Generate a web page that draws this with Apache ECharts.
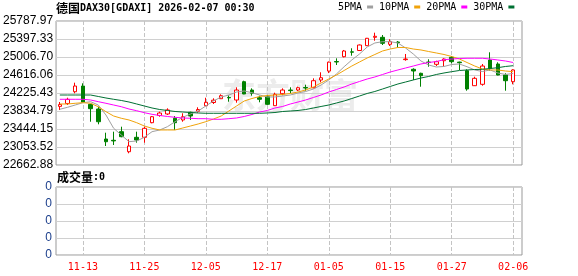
<!DOCTYPE html>
<html><head><meta charset="utf-8">
<script src="https://cdn.jsdelivr.net/npm/echarts@6/dist/echarts.min.js"></script>
<style>html,body{margin:0;padding:0;background:#fff}#c{width:578px;height:276px}</style>
</head><body><div id="c"></div>
<script>
const dates = ['11-10','11-11','11-12','11-13','11-14','11-17','11-18','11-19','11-20','11-21',
 '11-24','11-25','11-26','11-27','11-28','12-01','12-02','12-03','12-04','12-05',
 '12-08','12-09','12-10','12-11','12-12','12-15','12-16','12-17','12-18','12-19',
 '12-22','12-23','12-29','12-30','01-02','01-05','01-06','01-07','01-08','01-09',
 '01-12','01-13','01-14','01-15','01-16','01-19','01-20','01-21','01-22','01-23',
 '01-26','01-27','01-28','01-29','01-30','02-02','02-03','02-04','02-05','02-06'];
const openV = [23935,23998,24253,24377,23980,23878,23227,23199,23386,22951,
 23264,23264,23581,23737,23770,23676,23640,23807,23830,23950,
 24019,24101,24128,24073,24471,24290,24123,24145,23950,24210,
 24290,24290,24345,24340,24507,24701,24909,25013,25119,25148,
 25252,25434,25434,25282,25332,24950,24740,24653,24896,24848,
 24926,25000,24896,24710,24384,24414,24942,24855,24616,24471];
const closeV = [23975,24087,24377,24024,23885,23602,23168,23186,23277,23075,
 23205,23459,23711,23791,23857,23581,23711,23726,23867,24024,
 24069,24167,24119,24290,24204,24219,24089,23980,24197,24290,
 24277,24340,24334,24492,24557,24896,24898,25137,25111,25267,
 25413,25456,25304,25339,25319,24963,24703,24601,24890,24905,
 24963,24905,24883,24312,24544,24811,24761,24616,24492,24725];
const lowV = [23856,23965,24219,24010,23602,23546,23075,23097,23265,22917,
 23147,23147,23568,23711,23748,23422,23602,23640,23798,23945,
 23987,24095,24036,24015,24200,24167,24024,23965,23945,24175,
 24219,24269,24275,24327,24458,24658,24833,24998,25035,25137,
 25245,25360,25267,25245,25209,24926,24507,24362,24796,24811,
 24796,24870,24724,24275,24380,24384,24709,24610,24275,24414];
const highV = [24030,24123,24449,24436,23990,23928,23364,23386,23494,23221,
 23386,23494,23726,23820,23893,23726,23785,23820,23915,24123,
 24110,24197,24175,24349,24492,24327,24167,24182,24232,24327,
 24349,24362,24406,24544,24675,24907,24978,25159,25196,25278,
 25420,25534,25484,25391,25354,25072,24761,24666,24957,24926,
 24978,25028,24905,24740,24579,24855,25109,24892,24653,24740];
const ma5 = [23872,23915,23965,24015,24037,23965,23748,23460,23314,23169,
 23184,23264,23386,23423,23494,23603,23698,23770,23835,23943,
 24052,24139,24182,24247,24269,24232,24182,24139,24139,24160,
 24182,24226,24258,24312,24399,24508,24638,24796,24942,25072,
 25224,25311,25339,25339,25311,25202,25072,24920,24833,24790,
 24801,24844,24855,24796,24725,24692,24725,24660,24627,24649];
const ma10 = [23987,23987,24002,24015,24002,23928,23820,23726,23677,23640,
 23581,23509,23460,23423,23423,23423,23466,23509,23553,23603,
 23661,23726,23835,23943,24052,24106,24150,24171,24182,24193,
 24215,24247,24291,24356,24443,24529,24616,24714,24811,24898,
 24985,25061,25137,25180,25213,25213,25180,25159,25126,25094,
 25061,25018,24963,24887,24811,24746,24725,24725,24703,24688];
const ma20 = [24089,24089,24089,24089,24074,24037,24002,23965,23928,23878,
 23841,23798,23763,23737,23716,23698,23683,23677,23668,23668,
 23655,23655,23668,23683,23716,23759,23813,23846,23900,23933,
 23987,24030,24074,24128,24182,24247,24301,24356,24421,24475,
 24529,24573,24627,24681,24725,24768,24811,24855,24887,24909,
 24948,24963,24974,24979,24979,24979,24963,24942,24920,24887];
const ma30 = [24182,24182,24182,24182,24182,24150,24117,24089,24063,24030,
 23987,23943,23900,23867,23846,23824,23813,23802,23792,23785,
 23785,23785,23785,23785,23785,23785,23785,23792,23802,23824,
 23835,23846,23867,23900,23933,23965,24009,24052,24106,24160,
 24215,24258,24312,24367,24421,24464,24508,24551,24584,24627,
 24660,24688,24714,24725,24735,24740,24757,24775,24801,24818];
const volume = [0,0,0,0,0,0,0,0,0,0, 0,0,0,0,0,0,0,0,0,0, 0,0,0,0,0,0,0,0,0,0,
 0,0,0,0,0,0,0,0,0,0, 0,0,0,0,0,0,0,0,0,0, 0,0,0,0,0,0,0,0,0,0];
const xTickLabels = ['11-13','11-25','12-05','12-17','01-05','01-15','01-27','02-06'];
const yTickLabels = ['22662.88','23053.52','23444.15','23834.79','24225.43','24616.06','25006.70','25397.33','25787.97'];
const volTickLabels = ['0','0','0','0','0'];
const priceMin = 22662.88, priceMax = 25787.97;

const MONO = '"DejaVu Sans Mono", "Liberation Mono", monospace';
const CJK = '"Noto Sans CJK SC", sans-serif';
const RED = '#ff0000', GREEN = '#008000';
const GRID_L = 56, BG_W = 466, DATA_W = 461;

const candleData = dates.map((d, i) => [openV[i], closeV[i], lowV[i], highV[i]]);
const maLine = (name, data, color) => ({
  name, type: 'line', data, xAxisIndex: 1, yAxisIndex: 1,
  symbol: 'none', smooth: false, z: 3,
  lineStyle: { color, width: 1 }, itemStyle: { color }
});
const makeSplit = () => ({
  show: true, alignWithLabel: true, interval: (i) => xTickLabels.includes(dates[i]),
  lineStyle: { color: '#c4c4c4', width: 1, type: 'dashed', dashOffset: 0 }
});

const chart = echarts.init(document.getElementById('c'), null, { renderer: 'canvas' });
chart.setOption({
  animation: false,
  backgroundColor: '#fff',
  title: [
    { text: '{c|德国}{l|DAX30[GDAXI] 2026-02-07 00:30}', left: 56, top: 2, padding: 0,
      textStyle: { rich: { c: { fontFamily: CJK, fontSize: 12, color: '#000' },
                           l: { fontFamily: MONO, fontSize: 10, color: '#000' } } } },
    { text: '{c|成交量}{l|:0}', left: 57, top: 171, padding: 0,
      textStyle: { rich: { c: { fontFamily: CJK, fontSize: 12, color: '#000' },
                           l: { fontFamily: MONO, fontSize: 10, color: '#000' } } } }
  ],
  legend: {
    left: 338, top: 2, padding: 0, itemGap: 6, itemWidth: 6, itemHeight: 3,
    align: 'right', icon: 'rect',
    textStyle: { fontFamily: MONO, fontSize: 10, color: '#000' },
    data: ['5PMA', '10PMA', '20PMA', '30PMA']
  },
  graphic: [{
    type: 'text', left: 222, top: 78, z: 0, silent: true,
    style: { text: '东方财富', font: 'bold 34px "Noto Sans CJK SC"', fill: '#ececec' }
  }],
  grid: [
    { left: GRID_L, top: 21, width: BG_W, height: 144, show: true, borderColor: '#999', borderWidth: 1 },
    { left: GRID_L, top: 21, width: DATA_W, height: 144 },
    { left: GRID_L, top: 187, width: BG_W, height: 68, show: true, borderColor: '#999', borderWidth: 1 },
    { left: GRID_L, top: 187, width: DATA_W, height: 68 }
  ],
  xAxis: [
    { type: 'value', gridIndex: 0, min: 0, max: 1, show: false },
    { type: 'category', gridIndex: 1, data: dates, boundaryGap: true,
      axisLine: { show: false }, axisTick: { show: false }, axisLabel: { show: false },
      splitLine: makeSplit() },
    { type: 'value', gridIndex: 2, min: 0, max: 1, show: false },
    { type: 'category', gridIndex: 3, data: dates, boundaryGap: true,
      axisLine: { show: false }, axisTick: { show: false }, splitLine: makeSplit(),
      axisLabel: { color: RED, fontFamily: MONO, fontSize: 10, margin: 7,
        interval: (i) => xTickLabels.includes(dates[i]) } }
  ],
  yAxis: [
    { type: 'value', gridIndex: 0, min: 0, max: 8, interval: 1,
      axisLine: { show: false }, axisTick: { show: false },
      axisLabel: { formatter: v => yTickLabels[Math.round(v)] || '', color: '#000',
        fontFamily: '"Liberation Sans", Arial, sans-serif', fontSize: 12, margin: 3 },
      splitLine: { show: true, lineStyle: { color: '#d0d0d0', width: 1 } } },
    { type: 'value', gridIndex: 1, min: priceMin, max: priceMax, show: false },
    { type: 'value', gridIndex: 2, min: 0, max: 4, interval: 1,
      axisLine: { show: false }, axisTick: { show: false },
      axisLabel: { formatter: v => volTickLabels[Math.round(v)] || '', color: '#1c3f8c',
        fontFamily: '"Liberation Sans", Arial, sans-serif', fontSize: 12, margin: 4 },
      splitLine: { show: true, lineStyle: { color: '#d0d0d0', width: 1 } } },
    { type: 'value', gridIndex: 3, min: 0, max: 1, show: false }
  ],
  series: [
    { name: 'K', type: 'candlestick', xAxisIndex: 1, yAxisIndex: 1, data: candleData,
      barWidth: 4, z: 2,
      itemStyle: { color: '#ffffff', color0: GREEN, borderColor: RED, borderColor0: GREEN, borderWidth: 1 } },
    maLine('5PMA', ma5, '#a0a0a0'),
    maLine('10PMA', ma10, '#f0a30a'),
    maLine('20PMA', ma20, '#ff00ff'),
    maLine('30PMA', ma30, '#007033'),
    { name: '成交量', type: 'bar', xAxisIndex: 3, yAxisIndex: 3, data: volume,
      barWidth: 4, itemStyle: { color: GREEN } }
  ]
});
</script>
</body></html>
